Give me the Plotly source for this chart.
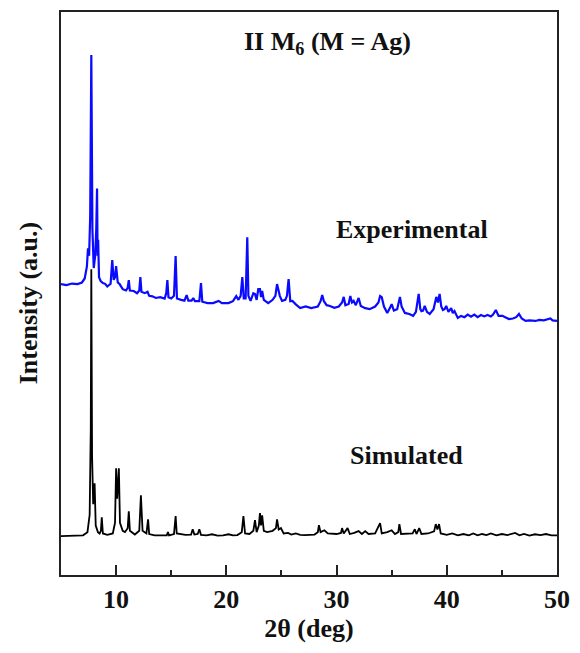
import plotly.graph_objects as go

# Simulated powder pattern (2θ in degrees, intensity normalised to strongest reflection = 100)
sim_2theta = [
    5.0, 7.0, 7.4, 7.6, 7.7, 7.75, 7.82, 7.92, 8.05, 8.15, 8.35, 8.5, 8.62, 8.7, 8.8,
    9.2, 9.7, 9.9, 10.0, 10.1, 10.25, 10.35, 10.6, 10.8, 11.05, 11.15, 11.25, 11.7,
    12.1, 12.25, 12.4, 12.75, 12.9, 13.0, 13.5, 14.0, 14.6, 14.7, 14.8, 15.25, 15.4,
    15.5, 15.9, 16.3, 16.8, 16.95, 17.1, 17.4, 17.55, 17.7, 18.2, 18.7, 19.2, 19.7,
    20.2, 20.6, 21.0, 21.4, 21.55, 21.7, 22.1, 22.45, 22.6, 22.75, 22.95, 23.05, 23.15,
    23.25, 23.4, 23.7, 24.2, 24.5, 24.6, 24.75, 24.95, 25.2, 25.6, 25.9, 26.3, 26.7,
    27.1, 27.6, 28.0, 28.3, 28.4, 28.55, 28.9, 29.2, 29.6, 30.0, 30.4, 30.5, 30.65,
    31.0, 31.2, 31.6, 32.0, 32.3, 32.6, 32.9, 33.5, 33.95, 34.1, 34.6, 35.0, 35.3,
    35.6, 35.7, 35.85, 36.4, 36.9, 37.1, 37.25, 37.5, 37.7, 38.3, 38.85, 39.0, 39.15,
    39.3, 39.45, 40.0, 40.5, 41.0, 41.5, 42.0, 42.4, 42.8, 43.2, 43.6, 44.0, 44.5,
    45.0, 45.5, 46.2, 46.6, 47.0, 47.5, 48.0, 48.5, 49.0, 49.5, 50.0,
]
sim_intensity = [
    0.0, 0.3, 1.5, 8.0, 40.0, 100.0, 30.0, 12.0, 19.8, 4.0, 1.5, 1.0, 2.0, 7.1, 1.0,
    0.5, 1.0, 5.0, 25.4, 14.0, 25.4, 5.0, 2.0, 1.5, 3.0, 9.3, 2.0, 0.6,
    2.0, 15.3, 2.0, 1.0, 6.3, 0.8, 0.3, 0.2, 0.3, 1.5, 0.3, 0.8, 7.5,
    1.0, 0.7, 0.5, 0.6, 2.6, 0.6, 0.8, 2.6, 0.5, 0.3, 0.7, 0.2, 0.3,
    0.7, 0.3, 0.4, 1.5, 7.5, 1.0, 0.8, 2.0, 6.0, 1.5, 4.0, 8.6, 4.0,
    7.8, 2.0, 1.5, 2.0, 3.0, 6.3, 2.5, 3.0, 1.0, 1.2, 0.6, 1.0, 0.5,
    0.4, 0.5, 0.6, 1.5, 4.1, 1.5, 2.2, 1.0, 0.8, 0.8, 1.2, 3.0, 1.0,
    3.0, 0.8, 1.2, 1.9, 0.8, 1.9, 0.8, 1.0, 4.9, 1.0, 1.5, 2.2, 0.8,
    1.5, 4.5, 0.8, 0.8, 1.0, 2.6, 0.8, 3.0, 0.8, 1.0, 1.8, 4.5, 2.5,
    4.5, 1.0, 0.5, 1.0, 0.3, 0.8, 0.3, 1.0, 0.3, 0.8, 0.4, 1.0, 0.3,
    0.8, 0.4, 1.2, 0.3, 0.8, 0.2, 0.7, 0.4, 0.8, 0.3, 0.3,
]

# Experimental powder pattern (same intensity scale)
exp_2theta = [
    5.0, 5.5, 6.0, 6.5, 6.9, 7.15, 7.35, 7.45, 7.55, 7.65, 7.75, 7.85, 7.97, 8.1, 8.2,
    8.27, 8.32, 8.37, 8.45, 8.6, 8.8, 9.0, 9.2, 9.5, 9.65, 9.78, 9.9, 10.0, 10.15,
    10.3, 10.6, 10.9, 11.05, 11.15, 11.25, 11.6, 11.9, 12.1, 12.2, 12.3, 12.6, 12.85,
    13.0, 13.3, 13.6, 14.0, 14.4, 14.55, 14.65, 14.75, 15.0, 15.25, 15.4, 15.52, 15.9,
    16.2, 16.4, 16.55, 16.85, 17.0, 17.15, 17.55, 17.7, 17.82, 18.3, 18.8, 19.3, 19.6,
    20.2, 20.6, 20.9, 21.1, 21.3, 21.45, 21.58, 21.75, 21.9, 22.0, 22.2, 22.45, 22.6,
    22.75, 22.9, 23.05, 23.15, 23.25, 23.4, 23.8, 24.2, 24.45, 24.6, 24.7, 24.85, 25.05,
    25.35, 25.5, 25.65, 25.8, 26.0, 26.3, 26.7, 27.2, 27.7, 28.3, 28.55, 28.7, 28.85,
    29.1, 29.4, 29.8, 30.2, 30.5, 30.65, 30.8, 31.1, 31.25, 31.4, 31.55, 31.75, 32.0,
    32.2, 32.6, 33.0, 33.5, 33.8, 33.95, 34.1, 34.3, 34.6, 34.85, 35.0, 35.2, 35.5,
    35.75, 35.9, 36.2, 36.6, 36.95, 37.2, 37.45, 37.6, 37.7, 37.85, 38.0, 38.2, 38.45,
    38.8, 39.05, 39.2, 39.35, 39.5, 39.65, 39.8, 39.95, 40.15, 40.4, 40.55, 40.7, 41.0,
    41.3, 41.6, 41.9, 42.2, 42.5, 42.8, 43.1, 43.4, 43.7, 44.0, 44.2, 44.45, 44.7,
    45.05, 45.3, 45.65, 46.0, 46.3, 46.55, 46.8, 47.15, 47.5, 48.05, 48.4, 48.8, 49.2,
    49.4, 49.6, 50.0,
]
exp_intensity = [
    19.4, 19.0, 19.6, 19.4, 20.0, 21.5, 26.0, 32.8, 30.0, 45.0, 105.2, 40.0, 25.4, 30.0, 40.0,
    55.2, 30.0, 36.0, 22.0, 20.5, 19.8, 19.5, 18.5, 19.5, 28.4, 21.0, 22.0, 26.1, 20.0,
    19.5, 17.5, 17.0, 18.0, 20.9, 17.0, 16.8, 16.0, 17.0, 22.0, 16.5, 16.0, 16.5,
    15.0, 14.8, 14.2, 14.5, 14.0, 16.0, 20.9, 14.5, 14.0, 15.0, 29.9, 14.0, 13.5,
    13.2, 15.3, 13.2, 13.2, 14.2, 13.0, 13.0, 19.8, 12.8, 12.3, 12.3, 13.1, 12.3,
    12.3, 13.0, 14.9, 13.5, 15.0, 22.0, 14.0, 14.0, 36.9, 15.0, 13.1, 16.0, 15.7,
    13.5, 17.5, 17.5, 14.5, 16.8, 13.5, 12.3, 13.5, 15.0, 19.4, 17.9, 15.0, 13.1,
    13.5, 15.0, 21.3, 13.0, 13.1, 11.8, 10.4, 11.0, 10.4, 11.0, 13.0, 15.3, 13.0,
    11.5, 11.2, 10.5, 11.0, 12.5, 14.6, 11.5, 12.0, 14.9, 12.5, 13.1, 11.5, 14.2,
    11.2, 10.4, 10.0, 11.0, 12.5, 14.9, 14.5, 11.0, 8.6, 10.5, 11.9, 9.5, 10.0,
    14.6, 11.0, 8.6, 8.2, 7.5, 9.0, 15.7, 10.0, 9.3, 9.5, 11.2, 9.0, 8.2,
    10.0, 14.6, 12.5, 15.7, 11.0, 9.7, 10.0, 11.2, 9.0, 10.4, 8.5, 9.3, 6.7,
    7.5, 7.0, 8.0, 7.2, 8.0, 7.0, 7.8, 7.3, 7.8, 7.3, 8.0, 9.7, 7.5,
    7.5, 7.0, 6.3, 6.5, 7.0, 8.2, 6.5, 5.6, 5.8, 5.6, 6.0, 5.8, 6.3,
    6.5, 5.8, 5.6,
]

x_ticks = [10, 20, 30, 40, 50]
x_minor_ticks = [15, 25, 35, 45]

# Vertical stacking of the two patterns
EXP_OFFSET = 75.0
Y_RANGE = [-14.55, 196.3]

FONT = "Liberation Serif"
INK = "#111111"
AXIS = "#222222"

fig = go.Figure()

fig.add_trace(go.Scatter(
    x=sim_2theta, y=sim_intensity, mode="lines",
    line=dict(color="#000000", width=1.8),
    showlegend=False, hoverinfo="skip",
))
fig.add_trace(go.Scatter(
    x=exp_2theta, y=[v + EXP_OFFSET for v in exp_intensity], mode="lines",
    line=dict(color="#0a0aff", width=2.2),
    showlegend=False, hoverinfo="skip",
))

label_font = dict(family=FONT, size=26, color=INK, weight="bold")

fig.add_annotation(x=0.537, y=0.945, xref="paper", yref="paper",
                   text="II M<sub>6</sub> (M = Ag)", showarrow=False,
                   font=label_font, xanchor="center", yanchor="middle")
fig.add_annotation(x=0.708, y=0.613, xref="paper", yref="paper",
                   text="Experimental", showarrow=False,
                   font=label_font, xanchor="center", yanchor="middle")
fig.add_annotation(x=0.697, y=0.213, xref="paper", yref="paper",
                   text="Simulated", showarrow=False,
                   font=label_font, xanchor="center", yanchor="middle")
# Vertical axis caption
fig.add_annotation(x=-0.066, y=0.483, xref="paper", yref="paper",
                   text="Intensity (a.u.)", showarrow=False, textangle=-90,
                   font=label_font, xanchor="center", yanchor="middle")

fig.update_xaxes(
    range=[5, 50], tickvals=x_ticks, ticktext=[str(t) for t in x_ticks],
    ticks="inside", ticklen=10, tickwidth=1.5, tickcolor=AXIS,
    minor=dict(tickvals=x_minor_ticks, ticks="inside", ticklen=5,
               tickwidth=1.5, tickcolor=AXIS),
    showline=True, linecolor=AXIS, linewidth=2, mirror=True,
    showgrid=False, zeroline=False,
    tickfont=dict(family=FONT, size=26, color=INK, weight="bold"),
    title=dict(text="2θ (deg)", standoff=5,
               font=dict(family=FONT, size=26, color=INK, weight="bold")),
)
fig.update_yaxes(
    range=Y_RANGE, showticklabels=False, ticks="",
    showline=True, linecolor=AXIS, linewidth=2, mirror=True,
    showgrid=False, zeroline=False,
)

fig.update_layout(
    width=580, height=653,
    margin=dict(l=61, r=18, t=10, b=78),
    paper_bgcolor="white", plot_bgcolor="white",
)

fig.write_html("out.html")
